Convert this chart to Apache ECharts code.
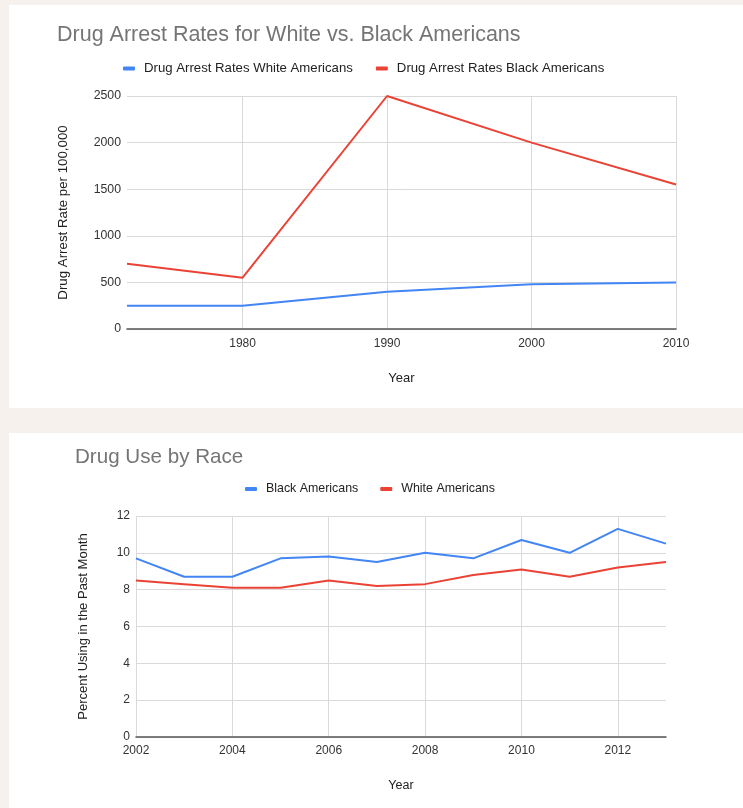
<!DOCTYPE html>
<html>
<head>
<meta charset="utf-8">
<script src="https://cdn.jsdelivr.net/npm/echarts@6/dist/echarts.min.js"></script>
<style>
  html, body { margin: 0; padding: 0; background: #f6f1ed; }
  body { width: 743px; height: 808px; position: relative; overflow: hidden; }
  .card { position: absolute; left: 9px; width: 734px; background: #fff; }
  #arrests { top: 5px; height: 403px; }
  #use { top: 433px; height: 375px; }
</style>
</head>
<body>
<div id="arrests" class="card"></div>
<div id="use" class="card"></div>
<script>
// arrest rates per 100,000
const arrestYears = [1972, 1980, 1990, 2000, 2010];
const arrestWhite = [250, 250, 400, 480, 500];
const arrestBlack = [700, 550, 2500, 2000, 1550];
const arrestTicks = [1980, 1990, 2000, 2010];

// percent using in the past month
const useYears = ['2002', '2003', '2004', '2005', '2006', '2007', '2008', '2009', '2010', '2011', '2012', '2013'];
const useBlack = [9.7, 8.7, 8.7, 9.7, 9.8, 9.5, 10.0, 9.7, 10.7, 10.0, 11.3, 10.5];
const useWhite = [8.5, 8.3, 8.1, 8.1, 8.5, 8.2, 8.3, 8.8, 9.1, 8.7, 9.2, 9.5];

const FONT = '"Liberation Sans", Arial, sans-serif';
const BLUE = '#4285f4';
const RED = '#ea4335';
const GRID = '#d9d9d9';

const pair = (a, b) => a.map((v, i) => [v, b[i]]);
const plain = v => String(v);

function lineSeries(name, data, color) {
  return {
    name,
    type: 'line',
    data,
    color,
    symbol: 'none',
    lineStyle: { width: 2, color },
    emphasis: { disabled: true },
  };
}

function baseOption(title, titleSize, titleLeft, titleTop, legendLeft, legendTop, legendSize, legendGap) {
  return {
    animation: false,
    textStyle: { fontFamily: FONT },
    title: {
      text: title,
      left: titleLeft,
      top: titleTop,
      padding: 0,
      textStyle: { fontFamily: FONT, fontSize: titleSize, fontWeight: 'normal', color: '#757575' },
    },
    legend: {
      top: legendTop,
      left: legendLeft,
      icon: 'roundRect',
      itemWidth: 12,
      itemHeight: 4,
      itemGap: legendGap,
      textStyle: { fontFamily: FONT, fontSize: legendSize, color: '#222', padding: [0, 0, 0, 4] },
    },
  };
}

const chart1 = echarts.init(document.getElementById('arrests'));
chart1.setOption(Object.assign(baseOption('Drug Arrest Rates for White vs. Black Americans', 21.5, 48, 19, 109, 52, 13.2, 23), {
  grid: { left: 118, right: 67, top: 91, bottom: 79, containLabel: false, outerBoundsMode: 'none' },
  xAxis: {
    type: 'value',
    min: 1972,
    max: 2010,
    name: 'Year',
    nameLocation: 'middle',
    nameGap: 43,
    nameTextStyle: { fontFamily: FONT, fontSize: 13, color: '#222' },
    axisLine: { show: true, lineStyle: { color: '#555', width: 1.5 } },
    axisTick: { show: false, customValues: arrestTicks },
    axisLabel: { customValues: arrestTicks, formatter: plain, fontFamily: FONT, fontSize: 12, color: '#333', margin: 9 },
    splitLine: { show: true, lineStyle: { color: GRID, width: 1 } },
  },
  yAxis: {
    type: 'value',
    min: 0,
    max: 2500,
    interval: 500,
    name: 'Drug Arrest Rate per 100,000',
    nameLocation: 'middle',
    nameGap: 57,
    nameTextStyle: { fontFamily: FONT, fontSize: 13.3, color: '#222' },
    axisLine: { show: false },
    axisTick: { show: false },
    axisLabel: { formatter: plain, fontFamily: FONT, fontSize: 12.3, color: '#333', margin: 6 },
    splitLine: { show: true, lineStyle: { color: GRID, width: 1 } },
  },
  series: [
    lineSeries('Drug Arrest Rates White Americans', pair(arrestYears, arrestWhite), BLUE),
    lineSeries('Drug Arrest Rates Black Americans', pair(arrestYears, arrestBlack), RED),
  ],
}));

const chart2 = echarts.init(document.getElementById('use'));
chart2.setOption(Object.assign(baseOption('Drug Use by Race', 20.6, 66, 14, 231, 45, 12.4, 22), {
  grid: { left: 127, right: 77, top: 83, bottom: 71, containLabel: false, outerBoundsMode: 'none' },
  xAxis: {
    type: 'category',
    data: useYears,
    boundaryGap: false,
    name: 'Year',
    nameLocation: 'middle',
    nameGap: 42,
    nameTextStyle: { fontFamily: FONT, fontSize: 12.5, color: '#222' },
    axisLine: { show: true, lineStyle: { color: '#555', width: 1.5 } },
    axisTick: { show: false },
    axisLabel: { interval: 1, fontFamily: FONT, fontSize: 12, color: '#333', margin: 8 },
    splitLine: { show: true, interval: 1, lineStyle: { color: GRID, width: 1 } },
  },
  yAxis: {
    type: 'value',
    min: 0,
    max: 12,
    interval: 2,
    name: 'Percent Using in the Past Month',
    nameLocation: 'middle',
    nameGap: 46,
    nameTextStyle: { fontFamily: FONT, fontSize: 13, color: '#222' },
    axisLine: { show: false },
    axisTick: { show: false },
    axisLabel: { fontFamily: FONT, fontSize: 12, color: '#333', margin: 6 },
    splitLine: { show: true, lineStyle: { color: GRID, width: 1 } },
  },
  series: [
    lineSeries('Black Americans', useBlack, BLUE),
    lineSeries('White Americans', useWhite, RED),
  ],
}));
</script>
</body>
</html>
